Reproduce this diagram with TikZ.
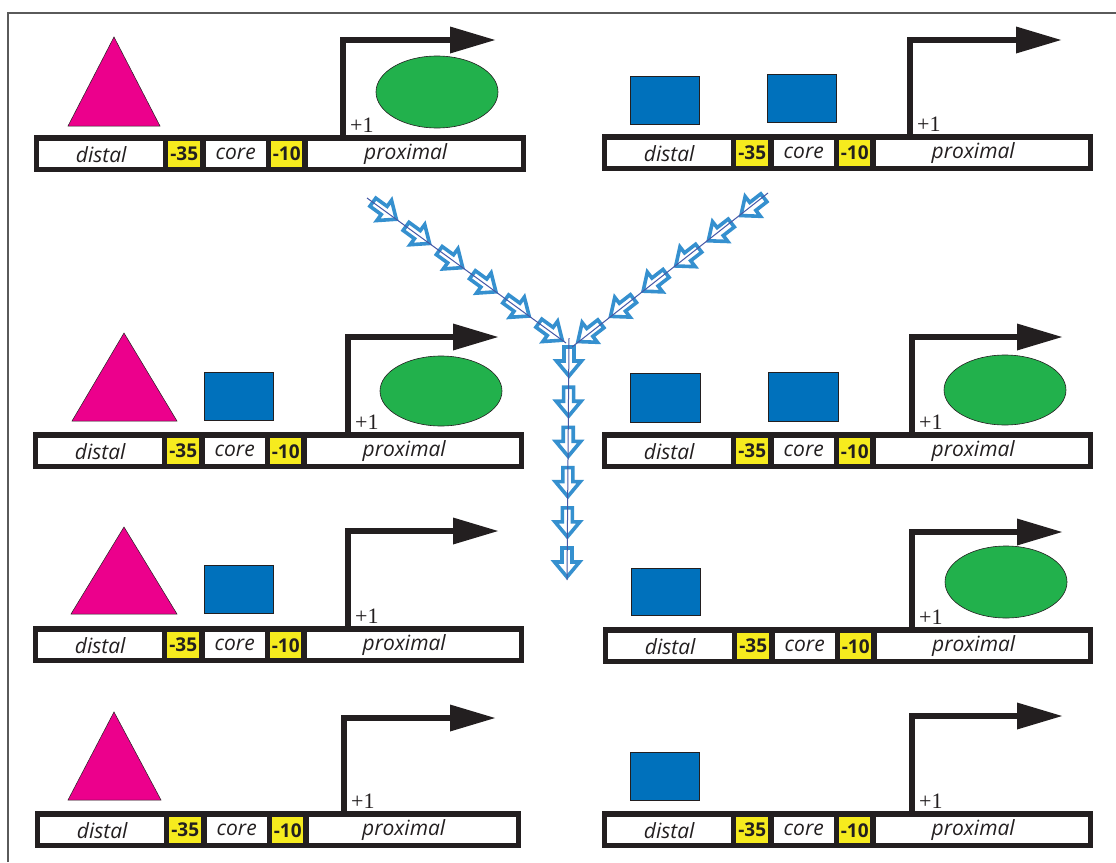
\documentclass[tikz,border=0pt]{standalone}
\usepackage{fontspec}
\setsansfont{Open Sans}
\newfontfamily\plusfont{Liberation Serif}
\definecolor{magent}{HTML}{EC008C}
\definecolor{grn}{HTML}{22B14C}
\definecolor{sqblue}{HTML}{0071BC}
\definecolor{yel}{HTML}{F6EB1E}
\definecolor{barblk}{HTML}{231F20}
\definecolor{hblue}{HTML}{3590CF}
\definecolor{lblue}{HTML}{4658A6}
\definecolor{framegray}{HTML}{5A5A5A}
\tikzset{
  seg/.style={fill=white, inner sep=0pt, anchor=north west, minimum height=26pt,
    font=\sffamily\itshape\fontsize{21}{21}\selectfont, text=barblk},
  segtext/.style={inner sep=0pt, font=\sffamily\itshape\fontsize{21}{21}\selectfont, text=barblk},
  num/.style={fill=yel, inner sep=0pt, anchor=north west, minimum height=26pt,
    font=\sffamily\bfseries\fontsize{19}{19}\selectfont, text=barblk},
  plus/.style={inner sep=0pt, font=\plusfont\fontsize{22}{22}\selectfont, text=barblk},
  tri/.style={fill=magent, draw=barblk, line width=0.5pt},
  ell/.style={fill=grn, draw=barblk, line width=0.6pt},
  sq/.style={fill=sqblue, draw=barblk, line width=0.6pt},
  thinline/.style={lblue, line width=1pt},
  harrow/.pic={\draw[hblue, line width=3.6pt, fill=white, line join=miter]
    (-15,-5) -- (-1,-5) -- (-1,-12.5) -- (14,0) -- (-1,12.5) -- (-1,5) -- (-15,5) -- cycle;}
}
% bar: #1 name, #2 x, #3 y, #4 width
\newcommand\genebar[4]{%
  \begin{scope}[shift={(#2,#3)}]
    \fill[barblk] (0,0) rectangle (#4,37);
    \node[seg, minimum width=124pt] (#1-distal) at (5,6) {distal};
    \node[num, minimum width=32pt] (#1-m35) at (134,6) {-35};
    \node[seg, minimum width=60pt] (#1-core) at (171.5,6) {core};
    \node[num, minimum width=31pt] (#1-m10) at (237,6) {-10};
    \node[seg, minimum width=#4pt-279pt] (#1-prox) at (274,6) {};
    \node[segtext] (#1-proxt) at ([xshift=-9pt]#1-prox.center) {proximal};
  \end{scope}}
% transcription start: #1 name, #2 vx, #3 top y, #4 tip x, #5 bar top
\newcommand\tss[5]{%
  \coordinate (#1-base) at (#2,#5);
  \coordinate (#1-tip) at (#4,#3);
  \draw[barblk, line width=6pt] (#1-base) |- ([xshift=-44pt]#1-tip);
  \fill[barblk] ([xshift=-45pt,yshift=13.5pt]#1-tip) -- (#1-tip) -- ([xshift=-45pt,yshift=-13.5pt]#1-tip) -- cycle;
  \node[plus, anchor=base west] (#1-plus) at ([xshift=7pt, yshift=3pt]#1-base) {+1};}
\begin{document}
\begin{tikzpicture}[x=1pt, y=-1pt]
\useasboundingbox (0,0) rectangle (1116,862);
\fill[white] (0,0) rectangle (1116,862);
\draw[framegray, line width=2pt] (8,862) -- (8,13) -- (1116,13);

% ---- Row 1 ----
\draw[tri] (114,37) -- (160,126) -- (68,126) -- cycle;
\draw[ell] (437,92) ellipse [x radius=61pt, y radius=36pt];
\tss{t1l}{343}{40}{495}{135}
\genebar{b1l}{34}{135}{492}

\draw[sq] (630,76) rectangle (699,124);
\draw[sq] (767,74) rectangle (836,122);
\tss{t1r}{910}{40}{1061}{134}
\genebar{b1r}{602}{134}{491}

% ---- Row 2 ----
\draw[tri] (124,333) -- (177,421) -- (72,421) -- cycle;
\draw[sq] (204,372) rectangle (273,420);
\draw[ell] (441,391) ellipse [x radius=61pt, y radius=35pt];
\tss{t2l}{348}{337}{498}{432}
\genebar{b2l}{33}{432}{491}

\draw[sq] (630,373) rectangle (700,422);
\draw[sq] (768,372) rectangle (838,421);
\draw[ell] (1005,390) ellipse [x radius=61pt, y radius=35pt];
\tss{t2r}{912}{337}{1062}{432}
\genebar{b2r}{602}{432}{491}

% ---- Row 3 ----
\draw[tri] (124,527) -- (177,614) -- (71,614) -- cycle;
\draw[sq] (204,565) rectangle (273,613);
\tss{t3l}{348}{531}{498}{626}
\genebar{b3l}{33}{626}{491}

\draw[sq] (631,568) rectangle (700,615);
\draw[ell] (1006,582) ellipse [x radius=61pt, y radius=36pt];
\tss{t3r}{912}{532}{1062}{627}
\genebar{b3r}{603}{627}{490}

% ---- Row 4 ----
\draw[tri] (114,712) -- (161,800) -- (68,800) -- cycle;
\tss{t4l}{344}{718}{495}{811}
\genebar{b4l}{35}{811}{486}

\draw[sq] (630,752) rectangle (699,800);
\tss{t4r}{912}{716}{1062}{811}
\genebar{b4r}{602}{811}{491}

% ---- Y of hollow arrows ----
\coordinate (yl1) at (367,198);
\coordinate (yl2) at (566,343);
\coordinate (yr1) at (768,193);
\coordinate (yr2) at (572,347);
\coordinate (ys1) at (569,338);
\coordinate (ys2) at (567,580);
\foreach \i in {0,...,5} {
  \pic[rotate=-36] at ({385+33.2*\i},{211+24.2*\i}) {harrow};
  \pic[rotate=-142.3] at ({752-32.6*\i},{207+25.2*\i}) {harrow};
  \pic[rotate=-90] at ({569-0.4*\i},{362+40.2*\i}) {harrow};
}
\draw[thinline] (yl1) -- (yl2);
\draw[thinline] (yr1) -- (yr2);
\draw[thinline] (ys1) -- (ys2);
\end{tikzpicture}
\end{document}
